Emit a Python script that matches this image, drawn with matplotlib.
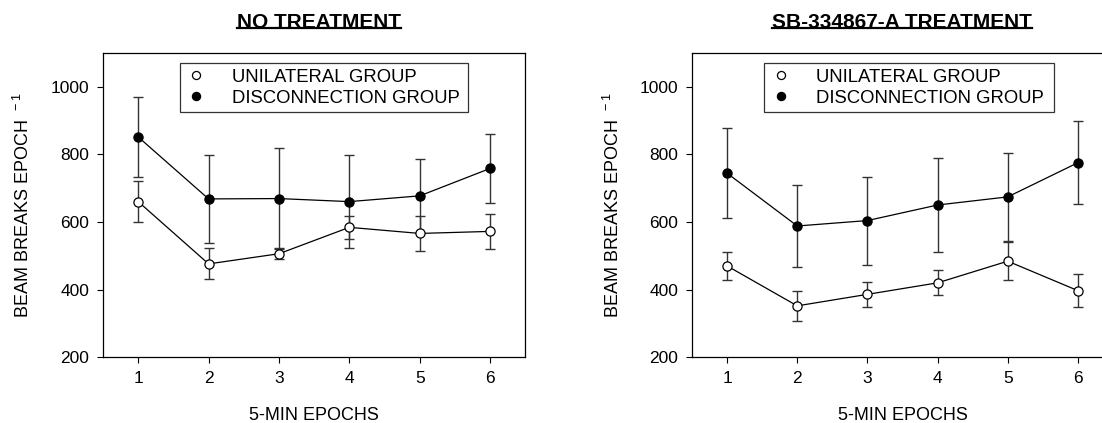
"""Two-panel beam-break plot: no treatment vs SB-334867-A treatment."""

import matplotlib

matplotlib.use("Agg")
import matplotlib.pyplot as plt  # noqa: E402
from matplotlib.lines import Line2D  # noqa: E402

epochs = [1, 2, 3, 4, 5, 6]

# NO TREATMENT panel
no_uni_mean = [660, 476, 506, 584, 566, 572]
no_uni_err = [61, 46, 16, 33, 51, 51]
no_disc_mean = [851, 668, 669, 660, 677, 758]
no_disc_err = [118, 130, 148, 137, 110, 103]

# SB-334867-A TREATMENT panel
sb_uni_mean = [470, 352, 386, 420, 484, 397]
sb_uni_err = [41, 45, 36, 37, 57, 49]
sb_disc_mean = [744, 588, 604, 650, 674, 775]
sb_disc_err = [133, 122, 130, 140, 130, 123]

panel_titles = ["NO TREATMENT", "SB-334867-A TREATMENT"]
series_labels = ["UNILATERAL GROUP", "DISCONNECTION GROUP"]
y_ticks = [200, 400, 600, 800, 1000]

W, H = 1102, 423


def draw_panel(ax, uni_mean, uni_err, disc_mean, disc_err, legend_x):
    for mean, err, face in ((disc_mean, disc_err, "black"), (uni_mean, uni_err, "white")):
        ax.errorbar(epochs, mean, yerr=err, fmt="none", ecolor="#333333",
                    elinewidth=1.0, capsize=3.6, capthick=1.0, zorder=2)
        ax.plot(epochs, mean, color="black", linewidth=0.9, marker="o", markersize=6.6,
                markerfacecolor=face, markeredgecolor="black", markeredgewidth=0.9, zorder=3)

    ax.set_xlim(0.5, 6.5)
    ax.set_ylim(200, 1100)
    ax.set_xticks(epochs)
    ax.set_yticks(y_ticks)
    ax.tick_params(axis="both", direction="out", length=4, width=0.8, labelsize=12.5,
                   top=False, right=False, pad=6)
    for sp in ax.spines.values():
        sp.set_linewidth(0.9)
    ax.set_xlabel("5-MIN EPOCHS", fontsize=13, labelpad=15)
    ax.set_ylabel("BEAM BREAKS EPOCH $^{\\,-1}$", fontsize=13)
    ax.yaxis.set_label_coords(-0.165, 0.5)

    handles = [
        Line2D([], [], linestyle="none", marker="o", markersize=5.8,
               markerfacecolor="white", markeredgecolor="black", markeredgewidth=0.9),
        Line2D([], [], linestyle="none", marker="o", markersize=5.8,
               markerfacecolor="black", markeredgecolor="black"),
    ]
    leg = ax.legend(handles, series_labels, loc="upper left",
                    bbox_to_anchor=(legend_x[0], 0.965, legend_x[1] - legend_x[0], 0.0),
                    mode="expand", fontsize=13.3, frameon=True, fancybox=False,
                    borderpad=0.3, labelspacing=0.2, handletextpad=1.3,
                    handlelength=1.2, borderaxespad=0.0)
    leg.get_frame().set_edgecolor("black")
    leg.get_frame().set_linewidth(0.9)


def main():
    plt.rcParams.update({
        "font.family": ["Liberation Sans", "DejaVu Sans"],
        "mathtext.fontset": "custom",
        "mathtext.rm": "Liberation Sans",
        "mathtext.default": "regular",
    })
    fig = plt.figure(figsize=(W / 100, H / 100), dpi=100)
    bottom = (H - 357.3) / H
    height = 304.6 / H
    ax1 = fig.add_axes([103 / W, bottom, 422.3 / W, height])
    ax2 = fig.add_axes([692 / W, bottom, 421 / W, height])

    draw_panel(ax1, no_uni_mean, no_uni_err, no_disc_mean, no_disc_err, (0.182, 0.865))
    draw_panel(ax2, sb_uni_mean, sb_uni_err, sb_disc_mean, sb_disc_err, (0.172, 0.859))

    titles = []
    for x, t in zip((319, 902), panel_titles):
        titles.append(fig.text(x / W, 1 - 22 / H, t, ha="center", va="center",
                               fontsize=15, fontweight="bold"))

    # underline the panel titles
    fig.canvas.draw()
    renderer = fig.canvas.get_renderer()
    for t in titles:
        bb = t.get_window_extent(renderer)
        y = (bb.y0 + 3) / H
        fig.add_artist(Line2D([bb.x0 / W, bb.x1 / W], [y, y], color="black",
                              linewidth=1.6, transform=fig.transFigure))

    fig.savefig("out.png", dpi=100)
    plt.close(fig)


if __name__ == "__main__":
    main()
